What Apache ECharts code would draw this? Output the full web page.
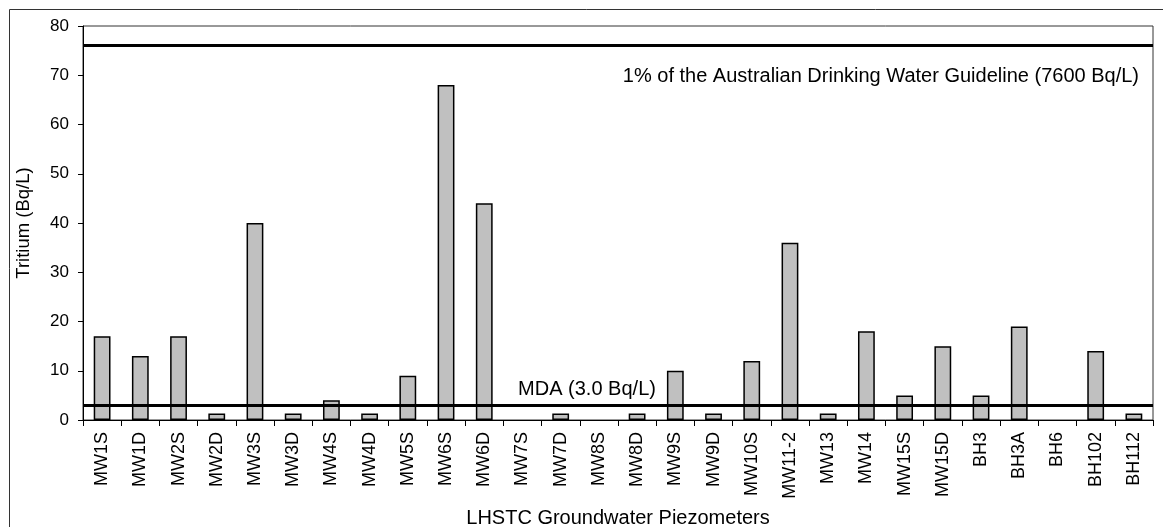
<!DOCTYPE html>
<html><head><meta charset="utf-8">
<script src="https://cdn.jsdelivr.net/npm/echarts@6/dist/echarts.min.js"></script>
<style>html,body{margin:0;padding:0;background:#fff}#c{width:1163px;height:527px}</style>
</head><body><div id="c"></div>
<script>
const categories = ['MW1S','MW1D','MW2S','MW2D','MW3S','MW3D','MW4S','MW4D','MW5S','MW6S','MW6D','MW7S','MW7D','MW8S','MW8D','MW9S','MW9D','MW10S','MW11-2','MW13','MW14','MW15S','MW15D','BH3','BH3A','BH6','BH102','BH112'];
const tritium = [17,13,17,1.3,40,1.3,4,1.3,9,68,44,null,1.3,null,1.3,10,1.3,12,36,1.3,18,5,15,5,19,null,14,1.3];
const guideline = 76;
const mda = 3.0;
const guidelineLabel = '1% of the Australian Drinking Water Guideline (7600 Bq/L)';
const mdaLabel = 'MDA (3.0 Bq/L)';
const yTicks = {min:0, max:80, interval:10};

const font = 'Liberation Sans, Arial, sans-serif';
const chart = echarts.init(document.getElementById('c'));
chart.setOption({
  animation:false,
  textStyle:{fontFamily:font},
  graphic:[{type:'rect',shape:{x:9.5,y:9.5,width:1170,height:540},style:{fill:'none',stroke:'#333',lineWidth:1},silent:true}],
  grid:{left:83,right:10,top:26,bottom:107,show:true,borderColor:'#333',borderWidth:1,containLabel:false,outerBoundsMode:'none'},
  xAxis:{type:'category',data:categories,
    axisLine:{lineStyle:{color:'#000',width:1}},
    axisTick:{show:true,alignWithLabel:false,length:6,lineStyle:{color:'#000'}},
    axisLabel:{rotate:90,fontSize:18,color:'#000',fontFamily:font,interval:0,margin:12},
    name:'LHSTC Groundwater Piezometers',nameLocation:'middle',nameGap:88,
    nameTextStyle:{fontSize:20,color:'#000',fontFamily:font}},
  yAxis:{type:'value',min:yTicks.min,max:yTicks.max,interval:yTicks.interval,
    axisLine:{show:true,lineStyle:{color:'#000',width:1}},
    axisTick:{show:true,length:5,lineStyle:{color:'#000'}},
    splitLine:{show:false},
    axisLabel:{fontSize:17,color:'#000',fontFamily:font,margin:14},
    name:'Tritium (Bq/L)',nameLocation:'middle',nameGap:50,
    nameTextStyle:{fontSize:18.5,color:'#000',fontFamily:font}},
  series:[{type:'bar',data:tritium,barWidth:'44%',
    itemStyle:{color:'#c0c0c0',borderColor:'#000',borderWidth:1.5},
    markLine:{symbol:'none',silent:true,
      lineStyle:{color:'#000',width:3,type:'solid'},
      data:[
        {yAxis:guideline,label:{show:true,position:'insideEndBottom',formatter:guidelineLabel,fontSize:20,color:'#000',fontFamily:font,distance:[14,21]}},
        {yAxis:mda,label:{show:true,position:'insideMiddleTop',formatter:mdaLabel,fontSize:20,color:'#000',fontFamily:font,distance:6,offset:[-31,0]}}
      ]}
  }]
});
</script></body></html>
